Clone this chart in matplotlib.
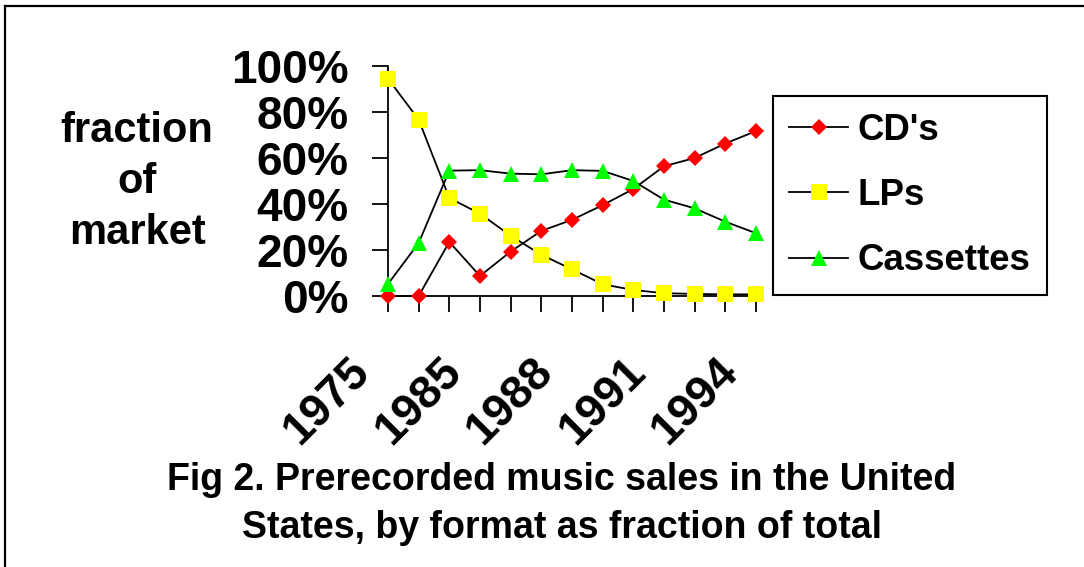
import matplotlib.pyplot as plt
from matplotlib.lines import Line2D
from matplotlib.ticker import FuncFormatter
from matplotlib.transforms import ScaledTranslation

plt.rcParams["font.family"] = ["Liberation Sans", "DejaVu Sans"]
plt.rcParams["font.weight"] = "bold"

# ── Data (percent of market) ─────────────────────────────────────────────────

years = [1975, 1980, 1984, 1985, 1986, 1987, 1988, 1989, 1990, 1991, 1992, 1993, 1994]
cds = [0.0, 0.0, 23.5, 8.7, 19.3, 28.3, 33.1, 39.5, 46.5, 56.4, 60.0, 66.3, 71.7]
lps = [94.5, 76.7, 42.6, 35.8, 26.2, 17.9, 11.6, 5.1, 2.6, 1.2, 0.9, 0.7, 0.7]
cassettes = [5.2, 23.0, 54.5, 54.7, 53.2, 52.9, 54.7, 54.4, 50.0, 41.9, 38.1, 32.3, 27.3]

series = [
    ("CD's", cds, "D", 8, "#FF0000"),
    ("LPs", lps, "s", 11, "#FFFF00"),
    ("Cassettes", cassettes, "^", 11, "#00FF00"),
]

# ── Figure ───────────────────────────────────────────────────────────────────

fig = plt.figure(figsize=(10.84, 5.67), dpi=100)
ax = fig.add_axes([0.3579, 0.4780, 0.6974 - 0.3579, 0.8836 - 0.4780])

x = list(range(len(years)))
for i, (label, vals, marker, ms, color) in enumerate(series):
    ax.plot(x, vals, color="black", lw=1.3, marker=marker, ms=ms,
            mfc=color, mec=color, mew=0, label=label,
            clip_on=False, zorder=3 + i)

ax.set_xlim(0, len(years) - 1)
ax.set_ylim(0, 100)
ax.set_yticks(range(0, 101, 20))
ax.yaxis.set_major_formatter(FuncFormatter(lambda v, _: f"{v:.0f}%"))

ax.set_xticks(x)
ax.set_xticklabels([str(y) if i % 3 == 0 else "" for i, y in enumerate(years)],
                   rotation=45, ha="right", va="top")

for side in ("top", "right"):
    ax.spines[side].set_visible(False)
for side in ("left", "bottom"):
    ax.spines[side].set_linewidth(1.3)

ax.tick_params(axis="both", direction="out", length=11.5, width=1.3, color="black")
ax.tick_params(axis="y", labelsize=33, pad=17)
ax.tick_params(axis="x", labelsize=33, pad=27)

# nudge the slanted year labels left of their ticks
shift = ScaledTranslation(-0.10, 0, fig.dpi_scale_trans)
for lbl in ax.get_xticklabels():
    lbl.set_transform(lbl.get_transform() + shift)

fig.text(137 / 1084, 1 - 182 / 567, "fraction\nof\nmarket", ha="center", va="center",
         fontsize=30, fontweight="bold", linespacing=1.36)

leg = fig.legend(loc="upper left", bbox_to_anchor=(773 / 1084, 1 - 96 / 567),
                 bbox_transform=fig.transFigure, borderaxespad=0,
                 fontsize=26.4, frameon=True, fancybox=False, framealpha=1,
                 edgecolor="black", handlelength=1.6, handletextpad=0.25,
                 borderpad=0.45, labelspacing=0.83, numpoints=1)
leg.get_frame().set_linewidth(1.5)

fig.text(562 / 1084, 1 - 504 / 567,
         "Fig 2. Prerecorded music sales in the United\nStates, by format as fraction of total",
         ha="center", va="center", fontsize=27, fontweight="bold", linespacing=1.4)

# outer frame line along the top and left edges
fig.add_artist(Line2D([5 / 1084, 1], [1 - 5.5 / 567, 1 - 5.5 / 567],
                      transform=fig.transFigure, color="black", lw=1.6))
fig.add_artist(Line2D([5 / 1084, 5 / 1084], [0, 1 - 5.5 / 567],
                      transform=fig.transFigure, color="black", lw=1.6))

fig.savefig("out.png", dpi=100)
